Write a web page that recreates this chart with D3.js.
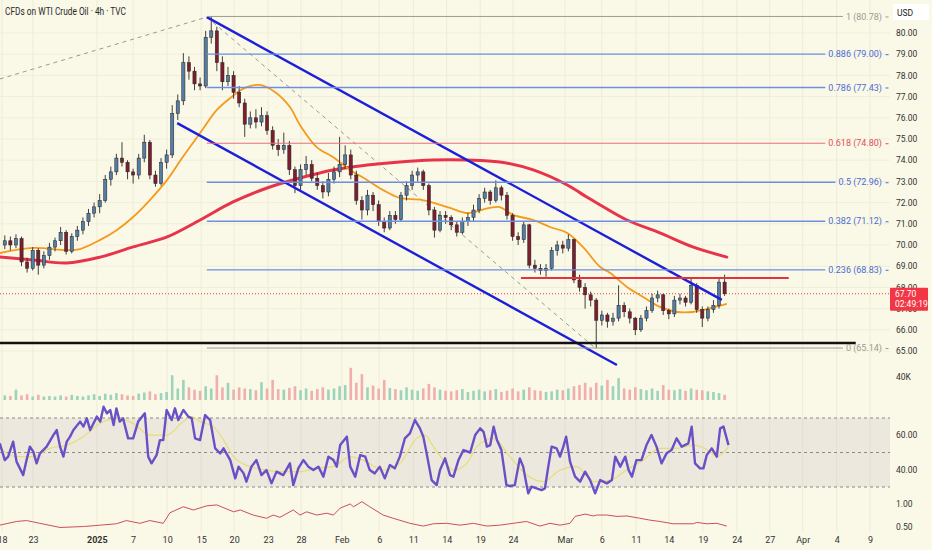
<!DOCTYPE html>
<html><head><meta charset="utf-8">
<script src="https://cdn.jsdelivr.net/npm/d3@7/dist/d3.min.js"></script>
<style>html,body{margin:0;padding:0;background:#faf8e7;}svg{display:block;}</style>
</head><body>
<svg id="chart" width="932" height="550"></svg>
<script>
// ---- DATA ----
const title = "CFDs on WTI Crude Oil · 4h · TVC";
// [open, high, low, close] per bar
const candles = [
[70.0,70.45,69.8,70.2],[70.2,70.4,69.75,70.0],[70.0,70.5,69.85,70.3],[70.3,70.4,69.0,69.2],[69.2,69.4,68.7,68.9],
[68.9,69.9,68.8,69.75],[69.75,69.85,68.6,69.05],[69.05,69.7,68.9,69.5],[69.5,70.1,69.3,69.9],[69.9,70.35,69.7,70.2],
[70.2,70.85,70.0,70.6],[70.6,70.7,69.55,69.7],[69.7,70.55,69.6,70.4],[70.4,70.9,70.2,70.7],[70.7,71.3,70.5,71.1],
[71.1,71.7,70.9,71.5],[71.5,72.0,71.3,71.8],[71.8,72.4,71.5,72.1],[72.1,73.3,72.0,73.1],[73.1,73.7,72.8,73.45],
[73.45,74.3,73.3,74.1],[74.1,74.85,73.7,73.9],[73.9,74.0,73.1,73.45],[73.45,73.6,72.9,73.3],[73.3,74.3,73.1,74.1],
[74.1,75.2,73.9,74.85],[74.85,74.95,73.1,73.3],[73.3,73.5,72.75,72.9],[72.9,74.1,72.8,73.9],[73.9,74.5,73.6,74.25],
[74.25,76.6,74.1,76.2],[76.2,77.1,75.9,76.8],[76.8,79.05,76.6,78.6],[78.6,78.9,77.8,78.2],[78.2,78.4,77.3,77.6],
[77.6,77.9,77.3,77.5],[77.5,80.1,77.4,79.8],[79.8,80.78,79.5,80.1],[80.1,80.3,78.2,78.6],[78.6,78.9,77.3,77.7],
[77.7,78.4,77.5,78.0],[78.0,78.2,76.9,77.2],[77.2,77.5,76.5,76.7],[76.7,76.9,75.1,75.7],[75.7,76.3,75.5,76.0],
[76.0,76.4,75.5,75.8],[75.8,76.5,75.6,76.1],[76.1,76.3,75.2,75.4],[75.4,75.6,74.5,74.7],[74.7,75.0,74.2,74.5],
[74.5,75.3,74.3,74.7],[74.7,74.9,73.3,73.55],[73.55,73.7,72.45,72.8],[72.8,73.8,72.6,73.55],[73.55,74.2,73.3,73.8],
[73.8,74.0,73.0,73.15],[73.15,73.4,72.6,72.8],[72.8,73.0,72.2,72.5],[72.5,73.4,72.3,73.1],[73.1,73.7,72.9,73.45],
[73.45,75.1,73.2,73.8],[73.8,74.7,73.6,74.25],[74.25,74.5,73.1,73.3],[73.3,73.5,71.9,72.1],[72.1,72.3,71.2,71.65],
[71.65,72.6,71.4,72.35],[72.35,72.5,71.6,71.9],[71.9,72.1,70.9,71.1],[71.1,71.3,70.6,70.8],[70.8,71.6,70.7,71.4],
[71.4,71.6,71.0,71.2],[71.2,72.5,71.1,72.35],[72.35,73.0,72.1,72.8],[72.8,73.5,72.6,73.3],[73.3,73.65,73.0,73.45],
[73.45,73.55,72.6,72.8],[72.8,72.9,71.4,71.65],[71.65,71.8,70.35,70.7],[70.7,71.6,70.6,71.4],[71.4,71.6,71.0,71.3],
[71.3,71.4,70.7,70.95],[70.95,71.1,70.4,70.6],[70.6,71.3,70.5,71.1],[71.1,71.5,70.9,71.3],[71.3,71.9,71.1,71.65],
[71.65,72.4,71.5,72.2],[72.2,72.7,72.0,72.5],[72.5,72.6,71.9,72.1],[72.1,73.05,72.0,72.7],[72.7,72.8,72.1,72.35],
[72.35,72.5,71.2,71.4],[71.4,71.5,70.2,70.4],[70.4,70.6,70.0,70.25],[70.25,71.1,70.1,70.95],[70.95,71.0,68.9,69.05],
[69.05,69.3,68.7,68.9],[68.9,69.1,68.6,68.8],[68.8,69.1,68.5,68.9],[68.9,69.9,68.8,69.75],[69.75,70.2,69.5,70.0],
[70.0,70.2,69.6,69.85],[69.85,70.5,69.7,70.25],[70.25,70.3,68.2,68.35],[68.35,68.6,67.8,68.0],[68.0,68.2,67.0,67.65],
[67.65,67.8,67.1,67.4],[67.4,67.5,65.14,66.45],[66.45,66.9,66.2,66.7],[66.7,66.8,66.1,66.4],[66.4,66.8,66.2,66.55],
[66.55,68.1,66.4,67.15],[67.15,67.3,66.6,66.85],[66.85,67.0,66.3,66.55],[66.55,66.6,65.75,66.0],[66.0,66.7,65.9,66.55],
[66.55,67.1,66.4,66.9],[66.9,67.7,66.8,67.5],[67.5,67.85,67.3,67.65],[67.65,67.7,66.7,66.9],[66.9,67.0,66.5,66.75],
[66.75,67.6,66.6,67.4],[67.4,67.7,67.2,67.5],[67.5,67.6,67.1,67.3],[67.3,68.4,67.2,68.1],[68.1,68.2,66.8,66.95],
[66.95,67.1,66.13,66.55],[66.55,67.1,66.4,66.95],[66.95,67.4,66.8,67.15],[67.15,68.4,67.0,68.25],[68.25,68.6,67.6,67.7]
];
// volume per bar, thousands
const volumes = [
8,7,18,8,10,6,9,6,7,6, 8,6,9,7,6,8,10,7,11,9,
12,10,8,7,11,13,15,10,12,14, 43,20,35,22,18,16,24,20,43,22,
30,18,22,20,19,17,31,20,35,19, 18,21,24,17,20,16,19,22,18,20,
24,26,56,30,45,22,25,20,35,21, 19,17,22,18,16,20,28,22,18,16,
15,17,19,14,16,18,15,17,19,14, 16,20,15,18,22,17,16,14,15,18,
17,20,24,26,30,22,30,25,35,24, 38,20,18,22,19,17,20,16,26,18,
17,19,16,20,18,17,15,14,12,9
];
// [bar index, value]
const maFast = [[-0.9,69.62],[5.1,69.86],[11.1,69.76],[13.5,69.81],[17.1,70.24],[20.1,70.71],[23.0,71.32],[26.0,72.12],
[29.1,73.07],[31.9,74.15],[35.0,75.28],[38.0,76.37],[40.4,76.93],[43.0,77.41],[45.7,77.55],[48.4,77.22],[51.1,76.51],
[52.9,75.66],[55.9,74.62],[58.8,74.15],[61.9,73.54],[64.9,73.07],[67.8,72.59],[70.8,72.22],[74.9,72.12],[79.8,71.75],
[82.8,71.51],[86.9,71.75],[88.7,71.79],[91.1,71.42],[94.7,71.18],[97.7,70.85],[100.8,70.57],[103.6,69.91],[106.7,68.96],
[108.5,68.68],[111.5,68.02],[114.4,67.55],[117.4,67.08],[120.5,66.84],[123.3,66.84],[125.8,66.98],[129.4,67.22]];
const maSlow = [[-0.9,69.43],[5.1,69.29],[11.1,69.15],[17.1,69.43],[23.0,69.91],[29.1,70.38],[35.0,71.18],[40.9,72.03],
[47.0,72.69],[52.9,73.16],[58.8,73.54],[64.9,73.77],[70.8,73.92],[76.7,74.01],[82.8,74.01],[88.7,73.92],[94.7,73.54],
[100.8,72.83],[104.3,72.26],[106.7,71.89],[111.5,71.18],[117.4,70.57],[123.3,69.91],[129.4,69.43]];
const rsiLine = [[-0.9,55.3],[0.0,45.6],[0.6,47.6],[1.5,56.3],[2.1,44.7],[3.3,36.9],[3.9,45.6],[4.5,53.4],[5.1,50.5],[5.7,43.7],
[6.3,49.5],[7.5,53.4],[8.7,60.1],[9.3,63.0],[9.9,53.4],[10.5,47.6],[11.1,56.3],[11.7,59.2],[12.3,63.0],[13.5,67.9],[14.1,65.0],
[14.7,69.8],[15.3,63.0],[16.5,70.8],[17.1,67.9],[17.7,76.5],[18.3,72.7],[18.9,74.6],[19.5,65.9],[20.0,75.6],[20.6,67.9],
[21.2,69.8],[22.1,58.2],[23.0,58.2],[23.9,67.9],[25.1,72.7],[25.7,47.6],[26.3,43.7],[27.2,48.5],[27.8,57.2],[28.4,57.2],
[29.0,74.6],[29.9,68.8],[30.5,75.6],[31.1,68.8],[32.0,74.6],[32.9,70.8],[33.5,69.8],[34.1,58.2],[35.0,57.2],[35.9,71.7],
[36.8,68.8],[37.7,52.4],[38.6,49.5],[39.2,52.4],[40.4,45.6],[41.3,35.0],[41.9,41.8],[42.8,37.9],[43.3,33.1],[44.2,41.8],
[45.1,45.6],[46.0,36.9],[46.9,39.8],[47.8,32.1],[48.7,38.9],[49.9,36.9],[51.1,43.7],[51.7,31.1],[52.6,40.8],[53.5,45.6],
[54.4,41.8],[55.3,39.8],[56.2,41.8],[57.1,36.0],[58.0,47.6],[58.9,45.6],[59.5,41.8],[60.1,54.3],[61.3,59.2],[61.9,41.8],
[62.8,36.0],[63.7,48.5],[64.6,47.6],[65.4,39.8],[66.3,37.9],[67.2,41.8],[68.1,35.0],[69.0,42.7],[69.9,40.8],[70.8,47.6],
[71.7,58.2],[72.6,61.1],[73.5,68.8],[74.4,64.0],[75.0,59.2],[75.6,49.5],[76.5,34.0],[77.4,31.1],[78.0,39.8],[78.9,46.6],
[79.8,36.9],[80.4,36.0],[81.3,45.6],[82.2,51.4],[83.4,50.0],[84.3,60.1],[85.2,64.0],[85.8,62.0],[86.4,53.4],[87.0,54.3],
[87.6,65.0],[88.2,57.2],[89.0,51.4],[89.9,31.1],[90.5,30.6],[91.4,31.1],[92.3,46.6],[92.9,41.8],[93.8,26.3],[94.4,30.2],
[95.3,29.2],[96.2,28.2],[96.8,29.2],[97.4,41.8],[98.0,53.4],[98.9,52.4],[99.5,47.6],[100.1,53.4],[100.6,59.2],[101.3,44.7],
[102.2,36.0],[103.1,33.1],[104.0,38.9],[104.9,34.0],[105.8,26.3],[106.7,34.0],[107.9,32.1],[108.8,34.0],[109.4,47.6],
[110.3,41.8],[111.2,47.6],[111.8,39.8],[112.4,36.0],[113.2,45.6],[114.1,45.6],[115.0,54.3],[115.9,60.1],[116.8,53.4],
[117.7,43.7],[118.6,49.5],[119.5,51.4],[120.4,58.2],[121.3,53.4],[122.5,55.3],[123.1,65.0],[123.7,43.7],[124.6,40.8],
[125.2,40.8],[125.8,48.5],[126.7,52.4],[127.6,47.6],[128.2,64.0],[128.8,65.0],[129.7,54.3]];
const rsiSignal = [[-0.9,52.4],[2.1,47.6],[5.1,47.6],[8.1,52.4],[11.1,54.3],[14.1,59.2],[17.1,66.9],[20.0,69.8],[23.0,66.9],
[26.0,60.1],[29.0,60.1],[32.0,67.9],[33.5,70.8],[35.0,67.9],[37.4,65.0],[39.2,57.2],[41.0,47.6],[43.9,41.8],[46.9,39.8],
[49.9,38.9],[52.9,38.9],[55.9,40.8],[58.9,41.8],[61.9,47.6],[64.8,44.7],[67.8,39.8],[70.8,43.7],[73.8,58.2],[75.3,60.1],
[76.8,53.4],[78.6,45.6],[80.4,39.8],[82.8,43.7],[84.6,53.4],[87.6,58.2],[90.5,47.6],[93.5,36.9],[96.5,33.1],[99.5,39.8],
[102.5,41.8],[105.5,33.1],[108.5,34.0],[111.4,39.8],[114.4,45.6],[117.4,52.4],[120.4,52.4],[123.4,54.3],[126.4,50.5],
[127.6,47.6],[129.7,53.4]];
const lowerPane = [[-0.9,0.54],[2.1,0.62],[3.9,0.64],[6.3,0.58],[9.9,0.49],[14.1,0.51],[17.1,0.54],[20.0,0.57],[21.8,0.64],
[24.2,0.58],[26.0,0.64],[28.4,0.58],[29.6,0.81],[32.0,0.94],[33.8,0.87],[36.2,0.96],[38.0,0.98],[41.0,0.83],[42.2,0.87],
[44.5,0.76],[46.9,0.69],[48.1,0.76],[49.3,0.71],[51.7,0.87],[52.9,0.76],[54.1,0.83],[55.9,0.76],[57.7,0.80],[58.9,0.76],
[60.1,0.91],[61.9,1.0],[62.5,0.94],[64.0,1.05],[65.4,0.94],[67.8,0.76],[69.6,0.69],[72.6,0.58],[75.0,0.52],[76.8,0.57],
[79.2,0.58],[81.6,0.54],[84.0,0.58],[86.4,0.52],[88.7,0.54],[90.5,0.57],[93.5,0.62],[95.9,0.52],[97.7,0.58],[99.5,0.54],
[101.3,0.58],[102.2,0.73],[104.0,0.78],[105.5,0.74],[106.1,0.76],[107.9,0.76],[109.7,0.73],[111.5,0.74],[113.8,0.69],
[115.6,0.65],[117.4,0.62],[119.8,0.57],[123.4,0.57],[124.0,0.60],[125.8,0.57],[127.6,0.58],[129.4,0.52]];
const fibRatios = ["1","0.886","0.786","0.618","0.5","0.382","0.236","0"];
const fibPrices = [80.78,79.00,77.43,74.80,72.96,71.12,68.83,65.14];
const fibKinds = ["gray","blue","blue","red","blue","blue","blue","gray"];
const fibStartBar = 36.2;
const channelUpper = [[36.2,80.75],[128.5,67.41]];
const channelLower = [[30.9,75.75],[109.7,64.34]];
const trendDashA = [[-0.9,77.83],[36.2,80.75]];
const trendDashB = [[36.2,80.75],[105.8,65.14]];
const resistance = [[92.5,68.44],[140.5,68.44]];
const support = [[-1.2,65.38],[152.5,65.38]];
const lastPrice = 67.70, countdown = "02:49:19";
const priceTicks = [65,66,67,68,69,70,71,72,73,74,75,76,77,78,79,80];
const volTicks = [40];
const rsiTicks = [40,60];
const rsiBands = [30,50,70];
const lowerTicks = [0.5,1.0];
const timeLabels = ["18","23","2025","7","10","15","20","23","28","Feb","6","11","14","19","24","Mar","6","11","14","19","24","27","Apr","4","9"];
const timeTickBars = [-0.5,5.05,16.5,23.0,29.1,35.2,41.1,47.2,53.1,60.4,67.1,73.2,79.2,85.2,91.1,100.4,107.0,113.1,119.0,125.1,131.2,137.1,143.0,149.1,155.05];

// ---- LAYOUT / STYLE ----
const W = 932, H = 550, plotR = 890;
const FONT = "Roboto, 'Liberation Sans', Arial, sans-serif";
const svg = d3.select("#chart");
svg.append("rect").attr("width",W).attr("height",H).attr("fill","#faf8e7");

const x = d3.scaleLinear().domain([0,129]).range([4.8,724.6]);
const y = d3.scaleLinear().domain([65,80]).range([351,33]);
const yVol = d3.scaleLinear().domain([0,40]).range([400,377]);
const yRsi = d3.scaleLinear().domain([30,70]).range([487,418]);
const yLow = d3.scaleLinear().domain([0.5,1]).range([527,504]);

const defs = svg.append("defs");
defs.append("clipPath").attr("id","plotclip").append("rect").attr("x",0).attr("y",0).attr("width",plotR).attr("height",532);

const grid = svg.append("g");
timeTickBars.forEach(t=>{
  grid.append("line").attr("x1",x(t)).attr("x2",x(t)).attr("y1",0).attr("y2",532)
    .attr("stroke","#eeecd7").attr("stroke-width",1);
});
priceTicks.forEach(p=>{
  grid.append("line").attr("x1",0).attr("x2",plotR).attr("y1",y(p)).attr("y2",y(p))
    .attr("stroke","#f0eedb").attr("stroke-width",1);
});

const g = svg.append("g").attr("clip-path","url(#plotclip)");

// RSI band
g.append("rect").attr("x",0).attr("width",plotR).attr("y",yRsi(70)).attr("height",yRsi(30)-yRsi(70))
  .attr("fill","#8a7fa0").attr("fill-opacity",0.12);
rsiBands.forEach(v=>{
  g.append("line").attr("x1",0).attr("x2",plotR).attr("y1",yRsi(v)).attr("y2",yRsi(v))
   .attr("stroke","#8a8a8a").attr("stroke-dasharray","3,3").attr("stroke-width",1);
});

// volume
g.selectAll(".vol").data(volumes).enter().append("rect")
  .attr("x",(d,i)=>x(i)-1.3).attr("width",2.6)
  .attr("y",d=>yVol(d)).attr("height",d=>yVol(0)-yVol(d))
  .attr("fill",(d,i)=>candles[i][3]>=candles[i][0]?"#8ccdb3":"#eda2a2")
  .attr("fill-opacity",0.85);

const line = d3.line().x(d=>x(d[0])).y(d=>y(d[1]));
const curve = d3.line().x(d=>x(d[0])).y(d=>y(d[1])).curve(d3.curveCatmullRom);

// trend dashes
g.append("path").attr("d",line(trendDashA)).attr("fill","none").attr("stroke","#9a9a90").attr("stroke-width",1).attr("stroke-dasharray","4,4");
g.append("path").attr("d",line(trendDashB)).attr("fill","none").attr("stroke","#9a9a90").attr("stroke-width",1).attr("stroke-dasharray","4,4");

// current price dotted
g.append("line").attr("x1",0).attr("x2",plotR).attr("y1",y(lastPrice)).attr("y2",y(lastPrice))
  .attr("stroke","#f23645").attr("stroke-width",1).attr("stroke-dasharray","1,2");

// fib lines + labels
const fibColor = {gray:"#9b9b92", blue:"#6d8fe3", red:"#e8707a"};
const fibText = {gray:"#9b9b92", blue:"#4a6cd4", red:"#e04f5a"};
const fibG = svg.append("g");
fibPrices.forEach((p,k)=>{
  const kind = fibKinds[k];
  const t = fibG.append("text").attr("x",882).attr("y",y(p)).attr("dy","0.35em")
    .attr("text-anchor","end").attr("font-family",FONT).attr("font-size",9)
    .attr("fill",fibText[kind]).text(`${fibRatios[k]} (${p.toFixed(2)})`);
  const w = t.node().getComputedTextLength();
  fibG.insert("line","text").attr("x1",x(fibStartBar)).attr("x2",882-w-3).attr("y1",y(p)).attr("y2",y(p))
    .attr("stroke",fibColor[kind]).attr("stroke-width",kind==="blue"?1.3:1);
  fibG.append("line").attr("x1",885.5).attr("x2",888.5).attr("y1",y(p)+0.5).attr("y2",y(p)+0.5)
    .attr("stroke",fibText[kind]).attr("stroke-width",1);
});

// moving averages
g.append("path").attr("d",curve(maSlow)).attr("fill","none").attr("stroke","#e8344a").attr("stroke-width",3).attr("stroke-linecap","round");
g.append("path").attr("d",curve(maFast)).attr("fill","none").attr("stroke","#f59a1d").attr("stroke-width",1.8);

// candles
const cg = g.append("g");
candles.forEach((c,i)=>{
  const [o,h,l,cl] = c;
  const up = cl>=o;
  cg.append("line").attr("x1",x(i)).attr("x2",x(i)).attr("y1",y(h)).attr("y2",y(l))
    .attr("stroke","#2b2b2b").attr("stroke-width",0.9);
  const top = y(Math.max(o,cl)), bot = y(Math.min(o,cl));
  cg.append("rect").attr("x",x(i)-1.6).attr("width",3.2).attr("y",top).attr("height",Math.max(1,bot-top))
    .attr("fill",up?"#557ca3":"#7c1e2d").attr("stroke","#222").attr("stroke-width",0.5);
});

// channel lines
g.append("path").attr("d",line(channelUpper)).attr("stroke","#1c1fd8").attr("stroke-width",2.4).attr("fill","none");
g.append("path").attr("d",line(channelLower)).attr("stroke","#1c1fd8").attr("stroke-width",2.4).attr("fill","none");
// resistance & support
g.append("path").attr("d",line(resistance)).attr("stroke","#e8313f").attr("stroke-width",2).attr("fill","none");
g.append("path").attr("d",line(support)).attr("stroke","#111").attr("stroke-width",2.4).attr("fill","none");

// RSI
const rl = d3.line().x(d=>x(d[0])).y(d=>yRsi(d[1]));
g.append("path").attr("d",rl.curve(d3.curveMonotoneX)(rsiSignal)).attr("fill","none").attr("stroke","#e8dc78").attr("stroke-width",1.2);
g.append("path").attr("d",d3.line().x(d=>x(d[0])).y(d=>yRsi(d[1]))(rsiLine)).attr("fill","none").attr("stroke","#6a50c6").attr("stroke-width",2.4).attr("stroke-linejoin","round");

// lower pane
g.append("path").attr("d",d3.line().x(d=>x(d[0])).y(d=>yLow(d[1]))(lowerPane)).attr("fill","none").attr("stroke","#c9505a").attr("stroke-width",1);

// ---- AXES ----
function styleAxis(sel){
  sel.select(".domain").remove();
  sel.selectAll("text").attr("font-family",FONT).attr("font-size",8.5).attr("fill","#333");
}
const fmt2 = d3.format(".2f");
svg.append("g").attr("transform",`translate(893,0)`)
  .call(d3.axisRight(y).tickValues(priceTicks).tickSize(0).tickPadding(3).tickFormat(fmt2)).call(styleAxis);
svg.append("g").attr("transform",`translate(893,0)`)
  .call(d3.axisRight(yVol).tickValues(volTicks).tickSize(0).tickPadding(3).tickFormat(d=>d+"K")).call(styleAxis);
svg.append("g").attr("transform",`translate(893,0)`)
  .call(d3.axisRight(yRsi).tickValues(rsiTicks).tickSize(0).tickPadding(3).tickFormat(fmt2)).call(styleAxis);
svg.append("g").attr("transform",`translate(893,0)`)
  .call(d3.axisRight(yLow).tickValues(lowerTicks).tickSize(0).tickPadding(3).tickFormat(fmt2)).call(styleAxis);
const xa = svg.append("g").attr("transform",`translate(0,534)`)
  .call(d3.axisBottom(x).tickValues(timeTickBars).tickSize(0).tickPadding(3).tickFormat((d,i)=>timeLabels[i])).call(styleAxis);
xa.selectAll("text").attr("font-size",9).attr("font-weight",(d,i)=>timeLabels[i]==="2025"?"bold":"normal");

// USD box
svg.append("rect").attr("x",893).attr("y",4).attr("width",36).attr("height",16).attr("fill","#ffffff").attr("rx",1);
svg.append("text").attr("x",897).attr("y",15.5).attr("font-family",FONT).attr("font-size",8.5).attr("fill","#222").text("USD");

// last price box
svg.append("rect").attr("x",890).attr("y",y(lastPrice)-6).attr("width",38).attr("height",23).attr("fill","#f23645").attr("rx",1);
svg.append("text").attr("x",895).attr("y",y(lastPrice)+3).attr("font-family",FONT).attr("font-size",8.5).attr("fill","#fff").text(lastPrice.toFixed(2));
svg.append("text").attr("x",895).attr("y",y(lastPrice)+13).attr("font-family",FONT).attr("font-size",8.5).attr("fill","#fff").text(countdown);

// title
svg.append("text").attr("x",5).attr("y",15).attr("font-family",FONT).attr("font-size",10)
  .attr("textLength",121).attr("lengthAdjust","spacingAndGlyphs").attr("fill","#2a2a2a").text(title);
</script>
</body></html>
